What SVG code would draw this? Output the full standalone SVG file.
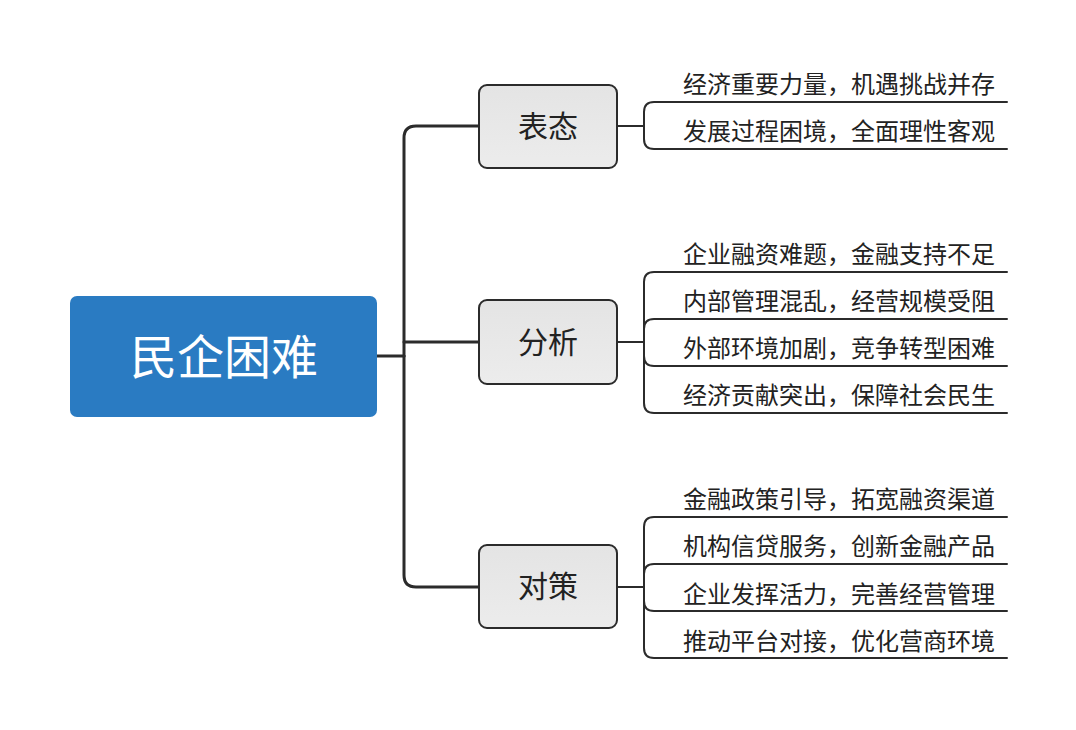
<svg xmlns="http://www.w3.org/2000/svg" width="1076" height="730" viewBox="0 0 1076 730">
<defs>
<linearGradient id="gbox" x1="0" y1="0" x2="0" y2="1">
<stop offset="0" stop-color="#e4e4e4"/>
<stop offset="1" stop-color="#ececec"/>
</linearGradient>
</defs>
<style>
.trunk{fill:none;stroke:#2b2b2b;stroke-width:3;stroke-linecap:round;stroke-linejoin:round}
.leafline{fill:none;stroke:#2b2b2b;stroke-width:2;stroke-linecap:round}
.branch rect{fill:url(#gbox);stroke:#2b2b2b;stroke-width:2}
.branch text{font-family:"Noto Sans CJK SC","Noto Sans",sans-serif;font-size:30px;fill:#222;text-anchor:middle}
.leaf text{font-family:"Noto Sans CJK SC","Noto Sans",sans-serif;font-size:24px;fill:#222}
.root text{font-family:"Noto Sans CJK SC","Noto Sans",sans-serif;font-size:47px;fill:#fff;text-anchor:middle}
</style>
<rect width="1076" height="730" fill="#fff"/>
<g id="connectors">
<path class="trunk" d="M377,356 H404"/>
<path class="trunk" d="M404,356 V138 Q404,126 416,126 H479"/>
<path class="trunk" d="M404,342 H479"/>
<path class="trunk" d="M404,356 V575 Q404,587 416,587 H479"/>
<path class="leafline" d="M617,126 H644"/>
<path class="leafline" d="M644,126 V112 Q644,102 654,102 H1007"/>
<path class="leafline" d="M644,126 V139 Q644,149 654,149 H1007"/>
<path class="leafline" d="M617,342 H644"/>
<path class="leafline" d="M644,342 V282 Q644,272 654,272 H1007"/>
<path class="leafline" d="M644,342 V329 Q644,319 654,319 H1007"/>
<path class="leafline" d="M644,342 V356 Q644,366 654,366 H1007"/>
<path class="leafline" d="M644,342 V403 Q644,413 654,413 H1007"/>
<path class="leafline" d="M617,587 H644"/>
<path class="leafline" d="M644,587 V527 Q644,517 654,517 H1007"/>
<path class="leafline" d="M644,587 V574 Q644,564 654,564 H1007"/>
<path class="leafline" d="M644,587 V601 Q644,611 654,611 H1007"/>
<path class="leafline" d="M644,587 V648 Q644,658 654,658 H1007"/>
</g>
<g id="root" class="root">
<rect x="70" y="296" width="307" height="121" rx="7" fill="#2a7bc2"/>
<text x="224" y="374">民企困难</text>
</g>
<g id="b1" class="branch">
<rect x="479" y="85" width="138" height="83" rx="8"/>
<text x="548" y="137">表态</text>
</g>
<g id="b2" class="branch">
<rect x="479" y="300" width="138" height="84" rx="8"/>
<text x="548" y="353">分析</text>
</g>
<g id="b3" class="branch">
<rect x="479" y="545" width="138" height="83" rx="8"/>
<text x="548" y="597">对策</text>
</g>
<g id="leaves1" class="leaf">
<text x="683" y="93">经济重要力量，机遇挑战并存</text>
<text x="683" y="140">发展过程困境，全面理性客观</text>
</g>
<g id="leaves2" class="leaf">
<text x="683" y="263">企业融资难题，金融支持不足</text>
<text x="683" y="310">内部管理混乱，经营规模受阻</text>
<text x="683" y="357">外部环境加剧，竞争转型困难</text>
<text x="683" y="404">经济贡献突出，保障社会民生</text>
</g>
<g id="leaves3" class="leaf">
<text x="683" y="508">金融政策引导，拓宽融资渠道</text>
<text x="683" y="555">机构信贷服务，创新金融产品</text>
<text x="683" y="603">企业发挥活力，完善经营管理</text>
<text x="683" y="650">推动平台对接，优化营商环境</text>
</g>
</svg>
